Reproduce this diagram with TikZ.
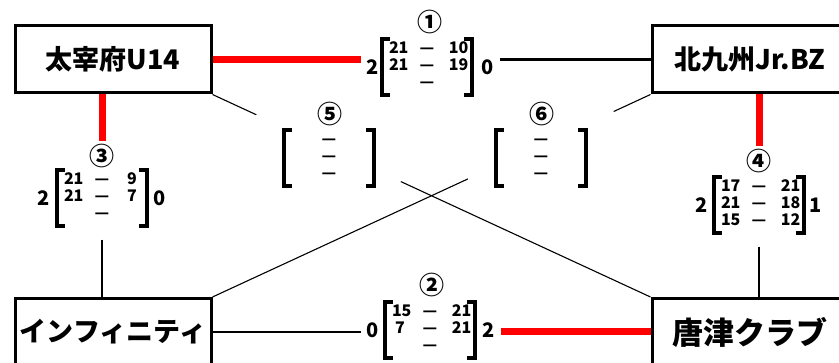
\documentclass[tikz,border=0pt]{standalone}
\usepackage{fontspec}
\setmainfont{Noto Sans CJK JP}
\usepackage{array}
\usetikzlibrary{calc}
\setlength{\tabcolsep}{7pt}
\newcolumntype{C}{>{\centering\arraybackslash}p{16pt}}

\begin{document}
\begin{tikzpicture}[x=1pt,y=-1pt,
	team/.style={draw,line width=3pt,minimum width=196pt,minimum height=67pt,font=\fontsize{27}{27}\selectfont\bfseries},
	score/.style={inner sep=0pt,font=\fontsize{16}{17}\selectfont\bfseries},
	side/.style={inner sep=6pt,font=\fontsize{20}{20}\selectfont\bfseries},
	num/.style={font=\fontsize{25}{25}\selectfont\bfseries},
	win/.style={red,line width=7pt},
	lose/.style={line width=2.5pt},
	cross/.style={line width=1.1pt},
	brk/.style={line width=4pt}]
				\useasboundingbox (0,0) rectangle (839,363);

				% teams
				\node[team] (tl) at (113,59.5) {太宰府U14};
				\node[team] (tr) at (750,59.5) {北九州Jr.BZ};
				\node[team] (bl) at (113,332) {インフィニティ};
				\node[team,font=\fontsize{31}{31}\selectfont\bfseries] (br) at (750,332) {唐津クラブ};

				% games
				\node[num] (n1) at (430,22) {①};
				\node[score] (m1) at (427,67) {\begin{tabular}{CCC}21&—&10\\21&—&19\\&—&\end{tabular}};
				\node[side] (l1) at (373,67) {2};
				\node[side] (r1) at (488,67) {0};

				\node[num] (n2) at (432,285) {②};
				\node[score] (m2) at (430,330) {\begin{tabular}{CCC}15&—&21\\7&—&21\\&—&\end{tabular}};
				\node[side] (l2) at (373,330) {0};
				\node[side] (r2) at (489,330) {2};

				\node[num] (n3) at (102,156) {③};
				\node[score] (m3) at (102,198) {\begin{tabular}{CCC}21&—&9\\21&—&7\\&—&\end{tabular}};
				\node[side] (l3) at (44,198) {2};
				\node[side] (r3) at (160,198) {0};

				\node[num] (n4) at (759,161) {④};
				\node[score] (m4) at (759,205) {\begin{tabular}{CCC}17&—&21\\21&—&18\\15&—&12\end{tabular}};
				\node[side] (l4) at (702,205) {2};
				\node[side] (r4) at (816,205) {1};

				\node[num] (n5) at (330,114) {⑤};
				\node[score] (m5) at (329,158) {\begin{tabular}{CCC}&—&\\&—&\\&—&\end{tabular}};

				\node[num] (n6) at (542,114) {⑥};
				\node[score] (m6) at (541,158) {\begin{tabular}{CCC}&—&\\&—&\\&—&\end{tabular}};

				\foreach \m in {m1,m2,m3,m4,m5,m6}{
					\draw[brk] ([xshift=8pt,yshift=2pt]\m.north west) -- ([yshift=2pt]\m.north west) -- ([yshift=-2pt]\m.south west) -- ([xshift=8pt,yshift=-2pt]\m.south west);
					\draw[brk] ([xshift=-8pt,yshift=2pt]\m.north east) -- ([yshift=2pt]\m.north east) -- ([yshift=-2pt]\m.south east) -- ([xshift=-8pt,yshift=-2pt]\m.south east);
				}

				% results
				\draw[win] (tl.east) -- (tl.east -| l1.west);
				\draw[lose] (tr.west) -- (tr.west -| r1.east);
				\draw[lose] (bl.east) -- (bl.east -| l2.west);
				\draw[win] (br.west) -- (br.west -| r2.east);
				\draw[win] (n3 |- tl.south) -- (n3.north);
				\draw[lose,shorten <=16pt] (m3.south) -- (m3 |- bl.north);
				\draw[win] (n4 |- tr.south) -- (n4.north);
				\draw[lose,shorten <=16pt] (m4.south) -- (m4 |- br.north);

				% crossing games
				\coordinate (a1) at ($(tl.south east)!0.1!(br.north west)$);
				\coordinate (a2) at ($(tl.south east)!0.43!(br.north west)$);
				\coordinate (b1) at ($(tr.south west)!0.084!(bl.north east)$);
				\coordinate (b2) at ($(tr.south west)!0.417!(bl.north east)$);
				\draw[cross] (tl.south east) -- (a1);
				\draw[cross] (a2) -- (br.north west);
				\draw[cross] (tr.south west) -- (b1);
				\draw[cross] (b2) -- (bl.north east);
			\end{tikzpicture}
\end{document}
